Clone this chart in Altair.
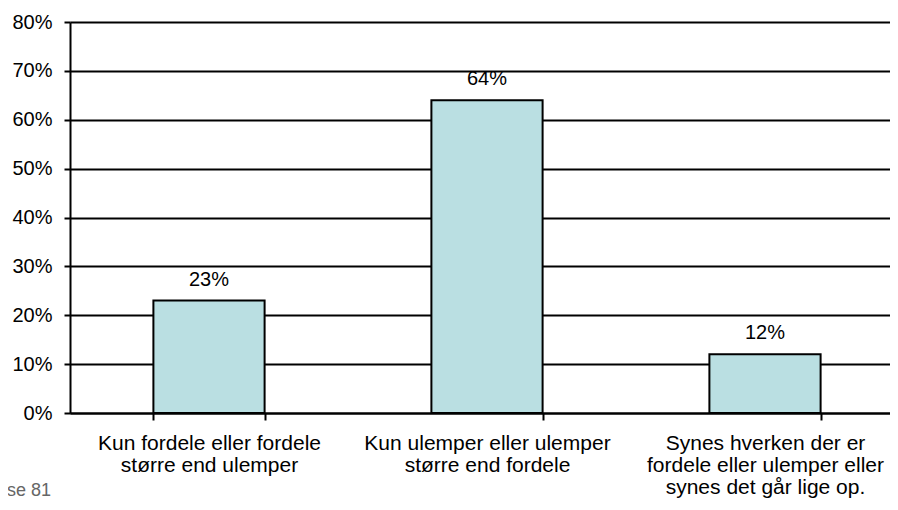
import altair as alt
import pandas as pd

categories = [
    "Kun fordele eller fordele\nstørre end ulemper",
    "Kun ulemper eller ulemper\nstørre end fordele",
    "Synes hverken der er\nfordele eller ulemper eller\nsynes det går lige op.",
]
values = [0.23, 0.64, 0.12]
value_labels = ["23%", "64%", "12%"]
y_ticks = [0, 0.1, 0.2, 0.3, 0.4, 0.5, 0.6, 0.7, 0.8]
note = ["Base 81"]

FONT = "Liberation Sans"

df = pd.DataFrame({"cat": categories, "value": values, "label": value_labels})
note_df = pd.DataFrame({"note": note})

x_enc = alt.X(
    "cat:N",
    sort=categories,
    title=None,
    scale=alt.Scale(paddingInner=0.6, paddingOuter=0.3),
    axis=alt.Axis(
        labelAngle=0,
        labelExpr="split(datum.label, '\\n')",
        labelLineHeight=22,
        labelFontSize=21,
        labelFont=FONT,
        labelColor="black",
        labelLimit=400,
        tickBand="extent",
        tickSize=7,
        tickColor="black",
        tickWidth=2,
        domainColor="black",
        domainWidth=2,
        labelPadding=12,
        grid=False,
    ),
)
y_enc = alt.Y(
    "value:Q",
    title=None,
    scale=alt.Scale(domain=[0, 0.8], nice=False),
    axis=alt.Axis(
        values=y_ticks,
        format=".0%",
        labelFontSize=20,
        labelFont=FONT,
        labelColor="black",
        labelPadding=12,
        tickSize=6,
        tickColor="black",
        tickWidth=2,
        domainColor="black",
        domainWidth=2,
        grid=True,
        gridColor="black",
        gridWidth=2,
        gridOpacity=1,
    ),
)

bars = alt.Chart(df).mark_bar(
    color="#BADFE2", stroke="black", strokeWidth=2
).encode(x=x_enc, y=y_enc)

labels = alt.Chart(df).mark_text(
    baseline="alphabetic", dy=-15, fontSize=20, font=FONT, color="black"
).encode(x=alt.X("cat:N", sort=categories), y="value:Q", text="label:N")

note_text = alt.Chart(note_df).mark_text(
    align="right", baseline="alphabetic", fontSize=18, font=FONT, color="#666666"
).encode(x=alt.value(-19), y=alt.value(474), text="note:N")

chart = (
    alt.layer(bars, labels, note_text)
    .properties(
        width=834,
        height=391,
        autosize=alt.AutoSizeParams(type="none"),
        padding={"left": 62, "top": 14, "right": -14, "bottom": 85},
    )
    .configure_view(stroke=None)
)

chart.save("out.html", embed_options={"renderer": "svg", "actions": False})
